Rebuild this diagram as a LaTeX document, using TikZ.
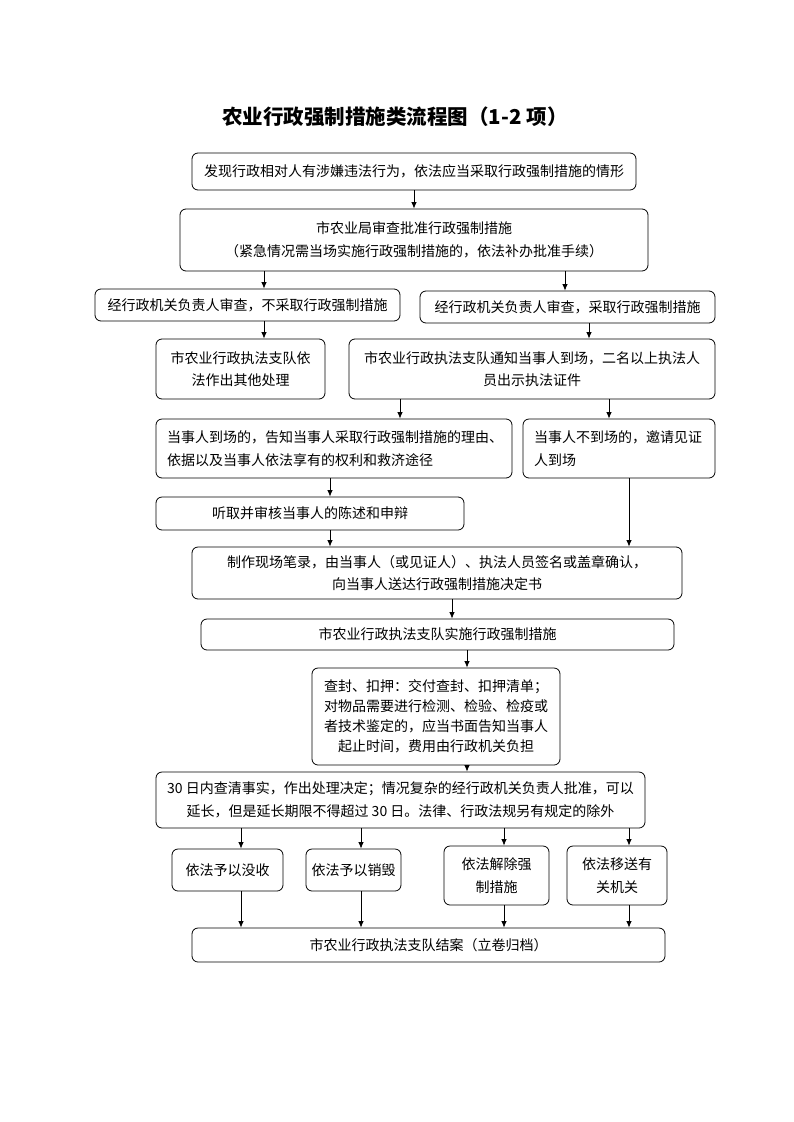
\documentclass[tikz,border=0pt]{standalone}
\usepackage{fontspec}
\setmainfont{Noto Sans CJK SC}
\usetikzlibrary{arrows.meta}

\begin{document}
\begin{tikzpicture}[
                x = 1pt, y = -1pt, % page units, y runs down
                > = {Latex[length=6.5pt, width=5.5pt]}, % arrow head style
                line width = 0.8pt
            ]

            \tikzstyle{box}=[draw = black, rounded corners = 6pt,
            inner sep = 4pt, align = center,
            font = \fontsize{14}{22.5}\selectfont]
            \tikzstyle{leftbox}=[box, align = left, inner xsep = 11pt]

            \useasboundingbox (0,0) rectangle (793,1122);

            \node (title) at (395,117)
            {\fontsize{20.5}{24}\selectfont\bfseries 农业行政强制措施类流程图（1-2 项）};

            \node (find) [box, minimum width=444pt, minimum height=37pt]
            at (414,171.5) {发现行政相对人有涉嫌违法行为，依法应当采取行政强制措施的情形};
            \node (approve) [box, minimum width=468pt, minimum height=62pt]
            at (414,240) {市农业局审查批准行政强制措施\\（紧急情况需当场实施行政强制措施的，依法补办批准手续）};

            \node (noact) [box, minimum width=305pt, minimum height=32pt]
            at (247.5,305) {经行政机关负责人审查，不采取行政强制措施};
            \node (act) [box, minimum width=295pt, minimum height=32pt]
            at (567.5,307) {经行政机关负责人审查，采取行政强制措施};

            \node (other) [box, minimum width=169pt, minimum height=60pt]
            at (240.5,369) {市农业行政执法支队依\\法作出其他处理};
            \node (notify) [box, minimum width=366pt, minimum height=60pt]
            at (532,369) {市农业行政执法支队通知当事人到场，二名以上执法人\\员出示执法证件};

            \node (present) [leftbox, text width=334pt, minimum height=59pt]
            at (334,448.5) {当事人到场的，告知当事人采取行政强制措施的理由、\\依据以及当事人依法享有的权利和救济途径};
            \node (absent) [leftbox, text width=170pt, minimum height=59pt]
            at (619,448.5) {当事人不到场的，邀请见证\\人到场};

            \node (hear) [box, minimum width=308pt, minimum height=33pt]
            at (310,513.5) {听取并审核当事人的陈述和申辩};
            \node (record) [box, minimum width=490pt, minimum height=52pt]
            at (437,573) {制作现场笔录，由当事人（或见证人）、执法人员签名或盖章确认，\\向当事人送达行政强制措施决定书};
            \node (enforce) [box, minimum width=473pt, minimum height=31pt]
            at (437.5,634.5) {市农业行政执法支队实施行政强制措施};
            \node (seal) [box, minimum width=248pt, minimum height=97pt,
            font = \fontsize{14}{20}\selectfont]
            at (436,716.5) {查封、扣押：交付查封、扣押清单；\\对物品需要进行检测、检验、检疫或\\者技术鉴定的，应当书面告知当事人\\起止时间，费用由行政机关负担};
            \node (verify) [box, minimum width=489pt, minimum height=56pt]
            at (400.5,800) {30 日内查清事实，作出处理决定；情况复杂的经行政机关负责人批准，可以\\延长，但是延长期限不得超过 30 日。法律、行政法规另有规定的除外};

            \node (confisc) [box, minimum width=111pt, minimum height=42pt]
            at (227.5,870) {依法予以没收};
            \node (destroy) [box, minimum width=95pt, minimum height=42pt]
            at (353.5,870) {依法予以销毁};
            \node (release) [box, minimum width=105pt, minimum height=59pt]
            at (496.5,875.5) {依法解除强\\制措施};
            \node (transfer) [box, minimum width=100pt, minimum height=59pt]
            at (617,875.5) {依法移送有\\关机关};
            \node (close) [box, minimum width=473pt, minimum height=34pt]
            at (428.5,945) {市农业行政执法支队结案（立卷归档）};

            % connectors
            \draw[->] (find.south) -- (approve.north);
            \draw[->] (approve.south -| 264,0) -- (noact.north -| 264,0);
            \draw[->] (approve.south -| 565,0) -- (act.north -| 565,0);
            \draw[->] (noact.south -| 264,0) -- (other.north -| 264,0);
            \draw[->] (act.south -| 589,0) -- (notify.north -| 589,0);
            \draw[->] (notify.south -| 400,0) -- (present.north -| 400,0);
            \draw[->] (notify.south -| 609,0) -- (absent.north -| 609,0);
            \draw[->] (present.south -| 330,0) -- (hear.north -| 330,0);
            \draw[->] (hear.south -| 330,0) -- (record.north -| 330,0);
            \draw[->] (absent.south -| 629,0) -- (record.north -| 629,0);
            \draw[->] (record.south -| 452,0) -- (enforce.north -| 452,0);
            \draw[->] (enforce.south -| 467,0) -- (seal.north -| 467,0);
            \draw[->] (seal.south -| 467,0) -- (verify.north -| 467,0);
            \draw[->] (verify.south -| 241,0) -- (confisc.north -| 241,0);
            \draw[->] (verify.south -| 361,0) -- (destroy.north -| 361,0);
            \draw[->] (verify.south -| 504,0) -- (release.north -| 504,0);
            \draw[->] (verify.south -| 629,0) -- (transfer.north -| 629,0);
            \draw[->] (confisc.south -| 241,0) -- (close.north -| 241,0);
            \draw[->] (destroy.south -| 361,0) -- (close.north -| 361,0);
            \draw[->] (release.south -| 504,0) -- (close.north -| 504,0);
            \draw[->] (transfer.south -| 629,0) -- (close.north -| 629,0);

        \end{tikzpicture}
\end{document}
